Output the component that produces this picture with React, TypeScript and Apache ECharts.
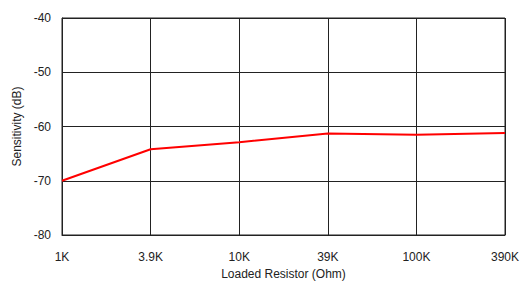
import React, { useEffect, useRef } from "react";
import * as echarts from "echarts";

const categories = ["1K", "3.9K", "10K", "39K", "100K", "390K"];
const sensitivity = [-70, -64.2, -62.9, -61.3, -61.5, -61.2];
const yMin = -80;
const yMax = -40;
const yInterval = 10;

export default function App() {
  const ref = useRef<HTMLDivElement>(null);
  useEffect(() => {
    if (!ref.current) return;
    const chart = echarts.init(ref.current, undefined, { renderer: "svg" });
    const font = "'Liberation Sans', Arial, sans-serif";
    chart.setOption({
      animation: false,
      backgroundColor: "#ffffff",
      grid: { left: 62, top: 18, right: 26, bottom: 59, show: true, borderColor: "#222", borderWidth: 1 },
      xAxis: {
        type: "category",
        data: categories,
        boundaryGap: false,
        name: "Loaded Resistor (Ohm)",
        nameLocation: "middle",
        nameGap: 31,
        nameTextStyle: { color: "#222", fontSize: 12, fontFamily: font },
        axisLine: { lineStyle: { color: "#222", width: 1 } },
        axisTick: { show: false },
        axisLabel: { color: "#222", fontSize: 12, fontFamily: font, margin: 16 },
        splitLine: { show: true, lineStyle: { color: "#222", width: 1 } },
      },
      yAxis: {
        type: "value",
        min: yMin,
        max: yMax,
        interval: yInterval,
        name: "Sensitivity (dB)",
        nameLocation: "middle",
        nameGap: 37,
        nameTextStyle: { color: "#222", fontSize: 12, fontFamily: font },
        axisLine: { show: true, lineStyle: { color: "#222", width: 1 } },
        axisTick: { show: false },
        axisLabel: { color: "#222", fontSize: 12, fontFamily: font, margin: 11 },
        splitLine: { show: true, lineStyle: { color: "#222", width: 1 } },
      },
      series: [
        {
          type: "line",
          data: sensitivity,
          showSymbol: false,
          symbol: "none",
          lineStyle: { color: "#ff0000", width: 2 },
          itemStyle: { color: "#ff0000" },
        },
      ],
    });
    return () => chart.dispose();
  }, []);
  return <div ref={ref} style={{ width: 531, height: 294, position: "absolute", left: 0, top: 0 }} />;
}
